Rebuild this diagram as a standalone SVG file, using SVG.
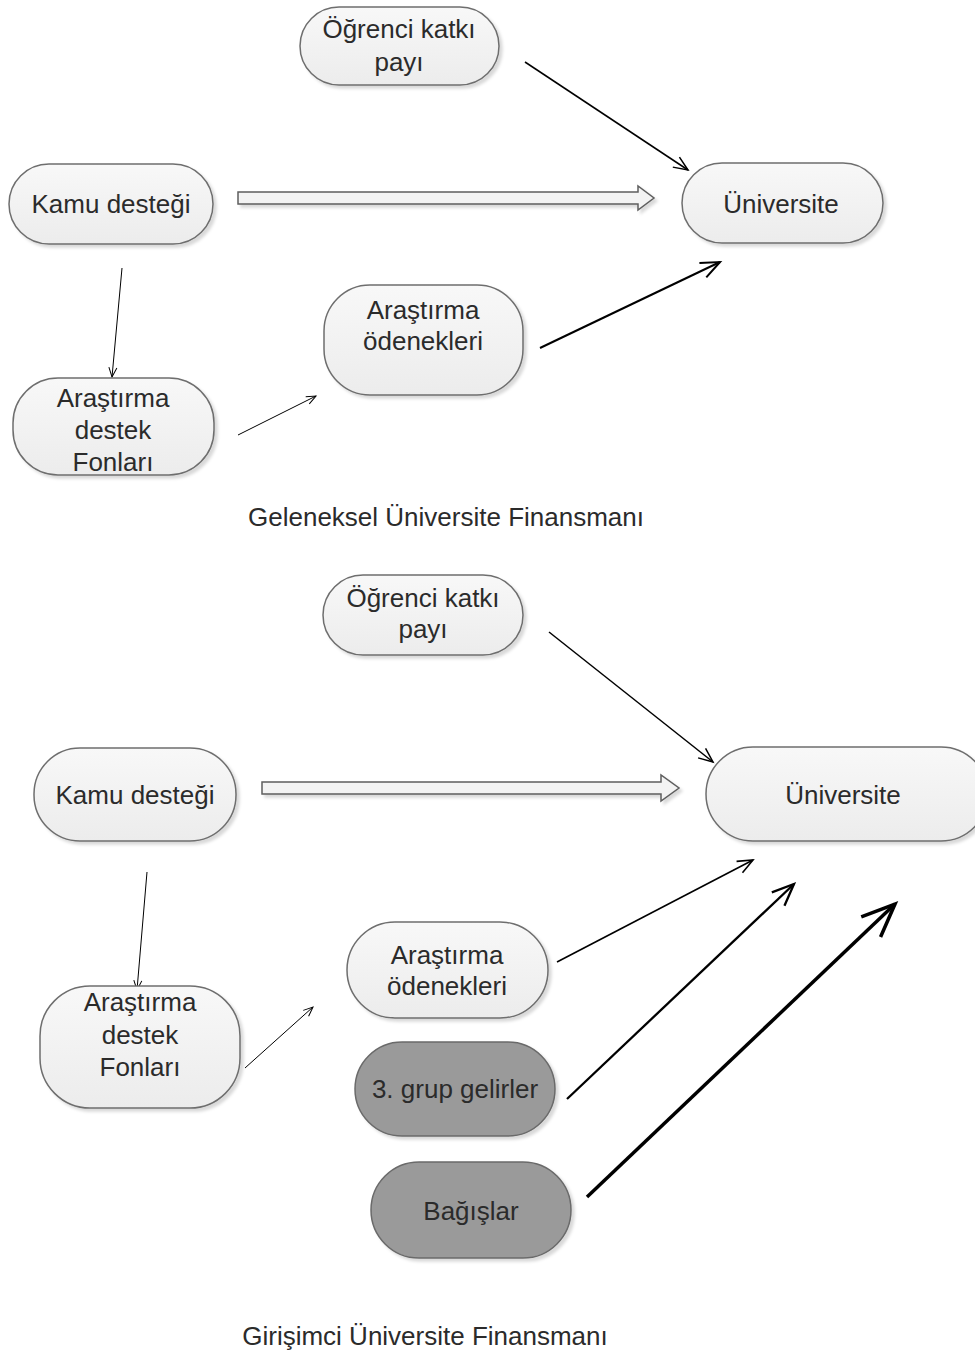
<svg xmlns="http://www.w3.org/2000/svg" width="975" height="1356" viewBox="0 0 975 1356">
<style>
  .node { fill: url(#lightFill); stroke: #6e6e6e; stroke-width: 1.5; filter: url(#shadow); }
  .dark { fill: #9a9a9a; stroke: #6a6a6a; stroke-width: 1.5; filter: url(#shadow); }
  .lbl { font-family: "Liberation Sans", Arial, sans-serif; font-size: 26px; fill: #2b2b2b; text-anchor: middle; }
  .cap { font-family: "Liberation Sans", Arial, sans-serif; font-size: 26px; fill: #2b2b2b; text-anchor: middle; }
  .con { stroke: #000; fill: none; marker-end: url(#open); }
  .block { fill: #f3f3f3; stroke: #5e5e5e; stroke-width: 1.5; filter: url(#shadow); }
</style>
<defs>
  <linearGradient id="lightFill" x1="0" y1="0" x2="0" y2="1">
    <stop offset="0" stop-color="#f8f8f8"/>
    <stop offset="1" stop-color="#ececec"/>
  </linearGradient>
  <filter id="shadow" x="-10%" y="-10%" width="130%" height="140%">
    <feDropShadow dx="3" dy="3" stdDeviation="1.5" flood-color="#000" flood-opacity="0.15"/>
  </filter>
  <marker id="open" viewBox="0 0 10 10" refX="9.5" refY="5" markerWidth="10" markerHeight="10" markerUnits="strokeWidth" orient="auto" overflow="visible">
    <path d="M0,1 L9.5,5 L0,9" fill="none" stroke="#000" stroke-width="1"/>
  </marker>
</defs>
<rect width="975" height="1356" fill="#fff"/>

<g id="connectors">
  <line class="con" x1="525" y1="62" x2="688" y2="170" stroke-width="1.5"/>
  <path class="block" d="M238,192 L638,192 L638,186 L654,198 L638,210 L638,204 L238,204 Z"/>
  <line class="con" x1="122" y1="268" x2="112" y2="377" stroke-width="1"/>
  <line class="con" x1="238" y1="435" x2="316" y2="396" stroke-width="1"/>
  <line class="con" x1="540" y1="348" x2="720" y2="262" stroke-width="2"/>

  <line class="con" x1="549" y1="632" x2="713" y2="762" stroke-width="1.5"/>
  <path class="block" d="M262,782 L661,782 L661,775 L679,788 L661,801 L661,794 L262,794 Z"/>
  <line class="con" x1="147" y1="872" x2="137" y2="990" stroke-width="1"/>
  <line class="con" x1="245" y1="1068" x2="313" y2="1007" stroke-width="1"/>
  <line class="con" x1="557" y1="962" x2="753" y2="860" stroke-width="1.6"/>
  <line class="con" x1="567" y1="1099" x2="794" y2="884" stroke-width="2.3"/>
  <line class="con" x1="587" y1="1197" x2="895" y2="904" stroke-width="3.5"/>
</g>

<g id="ogrenci1">
  <rect class="node" x="300" y="7" width="199" height="78" rx="39"/>
  <text class="lbl" x="399" y="38">Öğrenci katkı</text>
  <text class="lbl" x="399" y="71">payı</text>
</g>
<g id="kamu1">
  <rect class="node" x="9" y="164" width="204" height="80" rx="40"/>
  <text class="lbl" x="111" y="213">Kamu desteği</text>
</g>
<g id="univ1">
  <rect class="node" x="682" y="163" width="201" height="80" rx="40"/>
  <text class="lbl" x="781" y="213">Üniversite</text>
</g>
<g id="odenek1">
  <rect class="node" x="324" y="285" width="199" height="110" rx="46"/>
  <text class="lbl" x="423" y="319">Araştırma</text>
  <text class="lbl" x="423" y="350">ödenekleri</text>
</g>
<g id="destek1">
  <rect class="node" x="13" y="378" width="201" height="97" rx="45"/>
  <text class="lbl" x="113" y="407">Araştırma</text>
  <text class="lbl" x="113" y="439">destek</text>
  <text class="lbl" x="113" y="471">Fonları</text>
</g>
<text class="cap" x="446" y="526">Geleneksel Üniversite Finansmanı</text>

<g id="ogrenci2">
  <rect class="node" x="323" y="575" width="200" height="80" rx="40"/>
  <text class="lbl" x="423" y="607">Öğrenci katkı</text>
  <text class="lbl" x="423" y="638">payı</text>
</g>
<g id="kamu2">
  <rect class="node" x="34" y="748" width="202" height="93" rx="46"/>
  <text class="lbl" x="135" y="804">Kamu desteği</text>
</g>
<g id="univ2">
  <rect class="node" x="706" y="747" width="282" height="94" rx="47"/>
  <text class="lbl" x="843" y="804">Üniversite</text>
</g>
<g id="odenek2">
  <rect class="node" x="347" y="922" width="201" height="96" rx="48"/>
  <text class="lbl" x="447" y="964">Araştırma</text>
  <text class="lbl" x="447" y="995">ödenekleri</text>
</g>
<g id="destek2">
  <rect class="node" x="40" y="986" width="200" height="122" rx="50"/>
  <text class="lbl" x="140" y="1011">Araştırma</text>
  <text class="lbl" x="140" y="1044">destek</text>
  <text class="lbl" x="140" y="1076">Fonları</text>
</g>
<g id="grup3">
  <rect class="dark" x="355" y="1042" width="200" height="94" rx="47"/>
  <text class="lbl" x="455" y="1098">3. grup gelirler</text>
</g>
<g id="bagislar">
  <rect class="dark" x="371" y="1162" width="200" height="96" rx="48"/>
  <text class="lbl" x="471" y="1220">Bağışlar</text>
</g>
<text class="cap" x="425" y="1345">Girişimci Üniversite Finansmanı</text>
</svg>
